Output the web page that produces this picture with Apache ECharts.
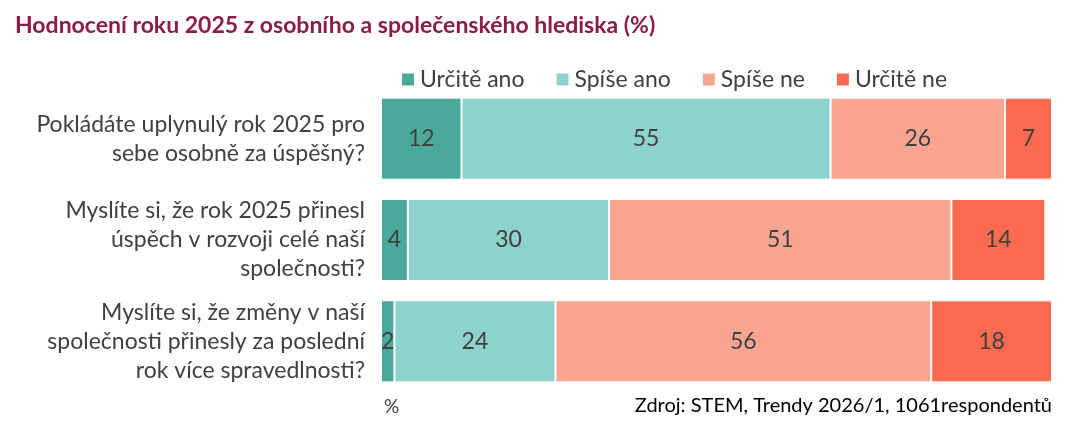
<!DOCTYPE html>
<html><head><meta charset="utf-8">
<script src="https://cdn.jsdelivr.net/npm/echarts@6/dist/echarts.min.js"></script>
<style>html,body{margin:0;padding:0;background:#fff}#c{width:1069px;height:439px}</style>
</head><body><div id="c"></div>
<script>
const categories = [
  "Pokládáte uplynulý rok 2025 pro\nsebe osobně za úspěšný?",
  "Myslíte si, že rok 2025 přinesl\núspěch v rozvoji celé naší\nspolečnosti?",
  "Myslíte si, že změny v naší\nspolečnosti přinesly za poslední\nrok více spravedlnosti?"
];
const seriesNames = ["Určitě ano", "Spíše ano", "Spíše ne", "Určitě ne"];
const urciteAno = [12, 4, 2];
const spiseAno = [55, 30, 24];
const spiseNe = [26, 51, 56];
const urciteNe = [7, 14, 18];
const colors = ["#4BA99B", "#8DD3CB", "#FAA592", "#FC6A4F"];
const values = [urciteAno, spiseAno, spiseNe, urciteNe];
const font = "Lato, 'Open Sans', sans-serif";
const chart = echarts.init(document.getElementById('c'));
chart.setOption({
  animation: false,
  textStyle: {fontFamily: font},
  title: {text: "Hodnocení roku 2025 z osobního a společenského hlediska (%)", left: 10, top: 9,
    textStyle: {color: "#8C1D40", fontSize: 23, fontWeight: "bold", fontFamily: font}},
  legend: {top: 63, left: 395, itemWidth: 14, itemHeight: 14, itemGap: 30,
    textStyle: {fontSize: 23, color: "#404040", fontFamily: font}, icon: "rect", data: seriesNames},
  grid: {left: 381, right: 17, top: 88, bottom: 47},
  xAxis: {type: "value", min: 0, max: 100, show: false},
  yAxis: {type: "category", data: categories, inverse: true,
    axisLine: {show: false}, axisTick: {show: false},
    axisLabel: {fontSize: 23, color: "#404040", lineHeight: 29, align: "right", margin: 16, fontFamily: font}},
  series: seriesNames.map((n, i) => ({
    name: n, type: "bar", stack: "a", data: values[i], barWidth: "81%",
    itemStyle: {color: colors[i], borderColor: "#fff", borderWidth: 1},
    label: {show: true, position: "inside", fontSize: 23, color: "#404040", fontFamily: font}
  })),
  graphic: [
    {type: "text", left: 384, top: 397, style: {text: "%", fontSize: 19, fill: "#404040", fontFamily: font}},
    {type: "text", right: 17, top: 396, style: {text: "Zdroj: STEM, Trendy 2026/1, 1061respondentů", fontSize: 20, fill: "#000", fontFamily: font}}
  ]
});
</script></body></html>
